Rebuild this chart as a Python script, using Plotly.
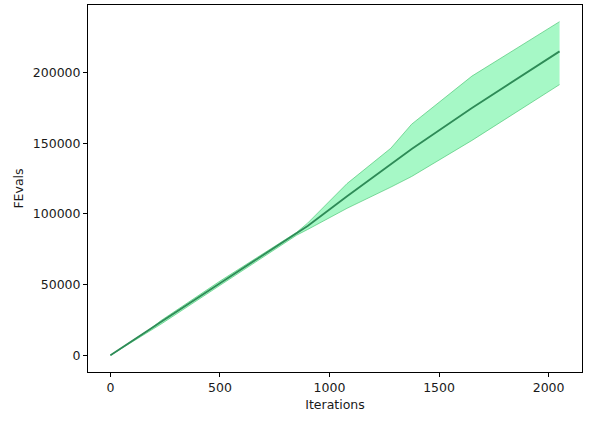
import plotly.graph_objects as go

iterations = [0, 180, 230, 500, 850, 900, 1080, 1280, 1375, 1650, 2050]
fevals_mean = [0, 18000, 23500, 51000, 86000, 91500, 112500, 135000, 146000, 175000, 215000]
fevals_upper = [0, 18500, 24500, 52500, 87000, 93500, 121500, 146500, 163500, 197500, 236000]
fevals_lower = [0, 17500, 22000, 49500, 85000, 89000, 104000, 119000, 126500, 152000, 191500]

x_ticks = [0, 500, 1000, 1500, 2000]
y_ticks = [0, 50000, 100000, 150000, 200000]

fig = go.Figure()
fig.add_trace(go.Scatter(x=iterations, y=fevals_lower, mode="lines",
                         line=dict(color="rgba(80,200,120,0.7)", width=1),
                         showlegend=False, hoverinfo="skip"))
fig.add_trace(go.Scatter(x=iterations, y=fevals_upper, mode="lines",
                         line=dict(color="rgba(80,200,120,0.7)", width=1),
                         fill="tonexty", fillcolor="#a6f8c6",
                         showlegend=False, hoverinfo="skip"))
fig.add_trace(go.Scatter(x=iterations, y=fevals_mean, mode="lines",
                         line=dict(color="#2e8b57", width=1.8),
                         showlegend=False))

font = dict(family="DejaVu Sans", size=12.5, color="#1a1a1a")
axis_common = dict(showline=True, linecolor="black", linewidth=1, mirror=True,
                   ticks="outside", ticklen=4, tickcolor="black", showgrid=False,
                   zeroline=False, tickfont=font)

fig.update_xaxes(range=[-102.5, 2152.5], tickvals=x_ticks, ticktext=[str(v) for v in x_ticks],
                 title=dict(text="Iterations", font=font, standoff=6),
                 **axis_common)
fig.update_yaxes(range=[-11800, 247800], tickvals=y_ticks, ticktext=[str(v) for v in y_ticks],
                 title=dict(text="FEvals", font=font, standoff=6),
                 **axis_common)

fig.update_layout(width=599, height=423, margin=dict(l=88, r=17, t=5, b=51),
                  plot_bgcolor="white", paper_bgcolor="white")

fig.write_html("out.html", config={"displayModeBar": False},
               post_script="document.body.style.margin='0';")
